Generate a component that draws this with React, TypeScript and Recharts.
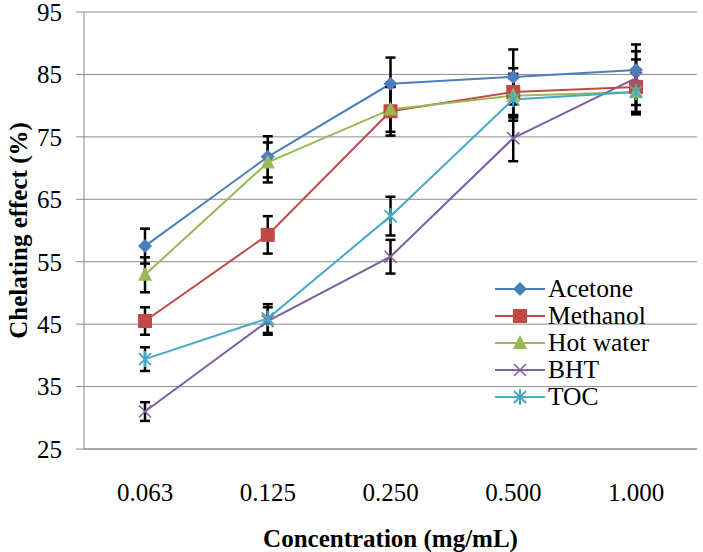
import { LineChart, Line, XAxis, YAxis, CartesianGrid, ErrorBar } from 'recharts';

// ---------------------------------------------------------------------------
// Data
// ---------------------------------------------------------------------------
const categories = ['0.063', '0.125', '0.250', '0.500', '1.000'];

const acetone = [57.5, 71.8, 83.5, 84.6, 85.7];
const acetoneErr = [2.8, 3.3, 4.2, 4.4, 4.1];

const methanol = [45.5, 59.3, 79.1, 82.2, 83.0];
const methanolErr = [2.2, 3.0, 3.9, 3.8, 4.4];

const hotWater = [52.9, 70.9, 79.4, 81.6, 82.2];
const hotWaterErr = [2.8, 3.2, 3.6, 3.5, 3.2];

const bht = [31.0, 45.5, 55.8, 74.8, 84.4];
const bhtErr = [1.5, 2.2, 2.7, 3.7, 4.3];

const toc = [39.4, 45.9, 62.3, 81.0, 82.2];
const tocErr = [1.9, 2.3, 3.1, 3.4, 3.5];

const yTicks = [25, 35, 45, 55, 65, 75, 85, 95];

type MarkerKind = 'diamond' | 'square' | 'triangle' | 'x' | 'star';

interface SeriesDef {
  key: string;
  name: string;
  color: string;
  marker: MarkerKind;
}

const SERIES: SeriesDef[] = [
  { key: 'acetone', name: 'Acetone', color: '#4a7ebb', marker: 'diamond' },
  { key: 'methanol', name: 'Methanol', color: '#be4b48', marker: 'square' },
  { key: 'hotWater', name: 'Hot water', color: '#98b954', marker: 'triangle' },
  { key: 'bht', name: 'BHT', color: '#7d60a0', marker: 'x' },
  { key: 'toc', name: 'TOC', color: '#46aac5', marker: 'star' },
];

const data = categories.map((c, i) => ({
  conc: c,
  acetone: acetone[i],
  acetoneErr: acetoneErr[i],
  methanol: methanol[i],
  methanolErr: methanolErr[i],
  hotWater: hotWater[i],
  hotWaterErr: hotWaterErr[i],
  bht: bht[i],
  bhtErr: bhtErr[i],
  toc: toc[i],
  tocErr: tocErr[i],
}));

const FONT = "'Liberation Serif', 'Times New Roman', 'DejaVu Serif', serif";
const GRID = '#8c8c8c';

// ---------------------------------------------------------------------------
// Markers
// ---------------------------------------------------------------------------
function Marker({ kind, cx, cy, color }: { kind: MarkerKind; cx: number; cy: number; color: string }) {
  switch (kind) {
    case 'diamond':
      return (
        <polygon
          points={`${cx},${cy - 7} ${cx + 7},${cy} ${cx},${cy + 7} ${cx - 7},${cy}`}
          fill={color}
        />
      );
    case 'square':
      return <rect x={cx - 7} y={cy - 7} width={14} height={14} fill={color} />;
    case 'triangle':
      return (
        <polygon
          points={`${cx},${cy - 8} ${cx + 7},${cy + 6} ${cx - 7},${cy + 6}`}
          fill={color}
        />
      );
    case 'x':
      return (
        <g stroke={color} strokeWidth={1.6}>
          <line x1={cx - 6} y1={cy - 6} x2={cx + 6} y2={cy + 6} />
          <line x1={cx - 6} y1={cy + 6} x2={cx + 6} y2={cy - 6} />
        </g>
      );
    case 'star':
      return (
        <g stroke={color} strokeWidth={2}>
          <line x1={cx - 6} y1={cy - 6} x2={cx + 6} y2={cy + 6} />
          <line x1={cx - 6} y1={cy + 6} x2={cx + 6} y2={cy - 6} />
          <line x1={cx} y1={cy - 8} x2={cx} y2={cy + 8} />
        </g>
      );
  }
  return null;
}

// ---------------------------------------------------------------------------
// Legend (overlay inside plot area)
// ---------------------------------------------------------------------------
function ChartLegend() {
  return (
    <div style={{ position: 'absolute', left: 494, top: 276, fontFamily: FONT, fontSize: 25.5 }}>
      {SERIES.map((s) => (
        <div key={s.key} style={{ display: 'flex', alignItems: 'center', height: 26.8 }}>
          <svg width={54} height={26} style={{ display: 'block' }}>
            <line x1={1} y1={13} x2={51} y2={13} stroke={s.color} strokeWidth={2} />
            <Marker kind={s.marker} cx={26} cy={13} color={s.color} />
          </svg>
          <span style={{ color: '#000', lineHeight: '26px' }}>{s.name}</span>
        </div>
      ))}
    </div>
  );
}

export default function App() {
  return (
    <div style={{ position: 'absolute', left: 0, top: 0, width: 703, height: 552, background: '#fff', fontFamily: FONT }}>
      <LineChart
        width={703}
        height={552}
        data={data}
        margin={{ top: 12, right: 6, bottom: 0, left: 0 }}
      >
        <CartesianGrid horizontal vertical={false} stroke={GRID} strokeWidth={1} />
        <XAxis
          dataKey="conc"
          height={103}
          padding={{ left: 61, right: 61 }}
          tick={{ fill: '#000', fontSize: 25, fontFamily: FONT }}
          axisLine={{ stroke: GRID }}
          tickLine={false}
          tickSize={0}
          tickMargin={34}
          label={{
            value: 'Concentration (mg/mL)',
            position: 'insideBottom',
            offset: 5,
            style: { fill: '#000', fontSize: 25, fontWeight: 'bold', fontFamily: FONT },
          }}
        />
        <YAxis
          width={84}
          domain={[25, 95]}
          ticks={yTicks}
          interval={0}
          tick={{ fill: '#000', fontSize: 25, fontFamily: FONT }}
          axisLine={{ stroke: GRID }}
          tickLine={{ stroke: GRID }}
          tickSize={8}
          tickMargin={14}
          label={{
            value: 'Chelating effect (%)',
            angle: -90,
            position: 'insideLeft',
            offset: 18,
            style: { textAnchor: 'middle', fill: '#000', fontSize: 25, fontWeight: 'bold', fontFamily: FONT },
          }}
        />
        {SERIES.map((s) => (
          <Line
            key={s.key}
            dataKey={s.key}
            name={s.name}
            stroke={s.color}
            strokeWidth={2}
            isAnimationActive={false}
            activeDot={false}
            dot={(p: any) => (
              <Marker key={`${s.key}-${p.index}`} kind={s.marker} cx={p.cx} cy={p.cy} color={s.color} />
            )}
          >
            <ErrorBar
              dataKey={`${s.key}Err`}
              direction="y"
              width={5}
              strokeWidth={2.5}
              stroke="#000"
              isAnimationActive={false}
            />
          </Line>
        ))}
      </LineChart>
      <ChartLegend />
    </div>
  );
}
